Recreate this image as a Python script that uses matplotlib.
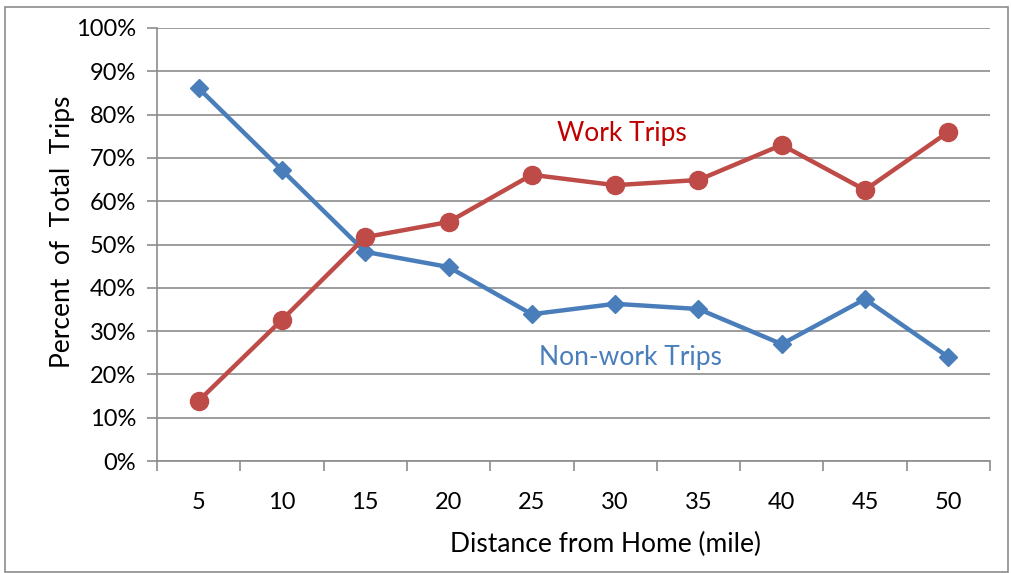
import matplotlib
matplotlib.use("Agg")
import matplotlib.pyplot as plt
import numpy as np

# distance categories (miles)
distances = [5, 10, 15, 20, 25, 30, 35, 40, 45, 50]
# percent of total trips
work_trips = [13.9, 32.6, 51.7, 55.2, 66.1, 63.7, 64.9, 73.0, 62.6, 76.0]
nonwork_trips = [86.1, 67.2, 48.3, 44.8, 33.9, 36.3, 35.1, 27.0, 37.4, 24.0]
y_ticks = [0, 10, 20, 30, 40, 50, 60, 70, 80, 90, 100]

blue = "#4A7EBB"
red = "#BE4B48"
grey = "#8C8C8C"

plt.rcParams['font.family'] = ['Lato', 'DejaVu Sans']

fig = plt.figure(figsize=(10.12, 5.73), dpi=100)
ax = fig.add_axes([157 / 1012, 1 - 461 / 573, (990 - 157) / 1012, (461 - 28) / 573])

# border around the whole figure
fig.patches.append(plt.Rectangle((5 / 1012, 1 / 573), 1003 / 1012, 565 / 573,
                                 transform=fig.transFigure, fill=False,
                                 edgecolor=grey, linewidth=1.2))

x = np.arange(len(distances))
ax.plot(x, nonwork_trips, color=blue, linewidth=3.2, marker="D", markersize=9,
        zorder=3)
ax.plot(x, work_trips, color=red, linewidth=3.2, marker="o", markersize=13,
        zorder=4)

ax.set_xlim(-0.5, len(distances) - 0.5)
ax.set_ylim(0, 100)
ax.set_yticks(y_ticks)
ax.set_yticklabels([str(v) + "%" for v in y_ticks])
ax.set_xticks(x)
ax.set_xticklabels([str(d) for d in distances])
ax.set_xticks(np.arange(-0.5, len(distances)), minor=True)
ax.tick_params(axis="x", which="major", length=0, pad=22, labelsize=17)
ax.tick_params(axis="x", which="minor", length=7, color=grey, width=1.2)
ax.tick_params(axis="y", length=7, color=grey, width=1.2, labelsize=17, pad=8)

ax.grid(axis="y", color=grey, linewidth=1.2)
ax.set_axisbelow(True)
for s in ["top", "right"]:
    ax.spines[s].set_visible(False)
for s in ["left", "bottom"]:
    ax.spines[s].set_color(grey)
    ax.spines[s].set_linewidth(1.2)

ax.set_xlabel("Distance from Home (mile)", fontsize=19)
ax.set_ylabel("Percent  of  Total  Trips", fontsize=19)
ax.xaxis.set_label_coords(0.538, -0.163)
ax.yaxis.set_label_coords(-0.098, 0.529)

ax.text(5.08, 75.7, "Work Trips", color="#C00000", fontsize=19,
        ha="center", va="center")
ax.text(5.18, 24.0, "Non-work Trips", color=blue, fontsize=19,
        ha="center", va="center")

fig.savefig("out.png", dpi=100)
